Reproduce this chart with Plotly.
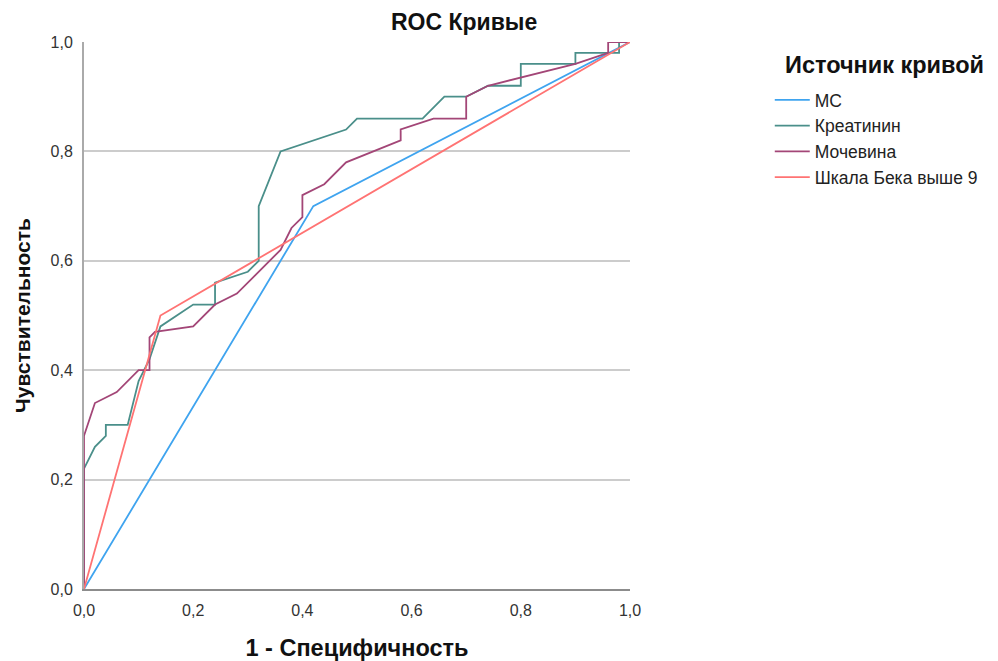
import plotly.graph_objects as go

# ---- data ----
mc_x = [0.0, 0.42, 1.0]
mc_y = [0.0, 0.70, 1.0]

kreat_x = [0.0, 0.0, 0.02, 0.04, 0.04, 0.08, 0.10, 0.12, 0.14, 0.20, 0.24, 0.24, 0.30, 0.32, 0.32, 0.36, 0.48, 0.50, 0.62, 0.66, 0.70, 0.74, 0.80, 0.80, 0.90, 0.90, 0.98, 0.98, 1.0]
kreat_y = [0.0, 0.22, 0.26, 0.28, 0.30, 0.30, 0.38, 0.42, 0.48, 0.52, 0.52, 0.56, 0.58, 0.60, 0.70, 0.80, 0.84, 0.86, 0.86, 0.90, 0.90, 0.92, 0.92, 0.96, 0.96, 0.98, 0.98, 1.0, 1.0]

moch_x = [0.0, 0.0, 0.02, 0.06, 0.10, 0.12, 0.12, 0.13, 0.20, 0.24, 0.28, 0.36, 0.38, 0.40, 0.40, 0.44, 0.48, 0.58, 0.58, 0.64, 0.70, 0.70, 0.74, 0.90, 0.96, 0.96, 1.0]
moch_y = [0.0, 0.28, 0.34, 0.36, 0.40, 0.40, 0.46, 0.47, 0.48, 0.52, 0.54, 0.62, 0.66, 0.68, 0.72, 0.74, 0.78, 0.82, 0.84, 0.86, 0.86, 0.90, 0.92, 0.96, 0.98, 1.0, 1.0]

beck_x = [0.0, 0.14, 1.0]
beck_y = [0.0, 0.50, 1.0]

series_names = ["МС", "Креатинин", "Мочевина", "Шкала Бека выше 9"]
series_colors = ["#3fa4ef", "#4a8f8a", "#a34677", "#ff7373"]

tick_vals = [0.0, 0.2, 0.4, 0.6, 0.8, 1.0]
legend_title = "Источник кривой"

FONT = "Liberation Sans, Arial, sans-serif"

fig = go.Figure()
for xs, ys, name, color in zip(
    [mc_x, kreat_x, moch_x, beck_x],
    [mc_y, kreat_y, moch_y, beck_y],
    series_names, series_colors,
):
    fig.add_trace(go.Scatter(x=xs, y=ys, mode="lines", name=name,
                             line=dict(color=color, width=1.8)))

fig.update_layout(
    width=998, height=661,
    paper_bgcolor="white", plot_bgcolor="white",
    separators=", ",
    font=dict(family=FONT, color="#222222", size=16),
    margin=dict(l=84, r=368, t=42, b=72),
    title=dict(text="<b>ROC Кривые</b>", x=0.465, xanchor="center",
               y=0.967, yanchor="middle",
               font=dict(size=23, color="#111111", family=FONT)),
    xaxis=dict(range=[0, 1], tickvals=tick_vals, tickformat=".1f",
               showgrid=False, zeroline=False, showline=True,
               linecolor="#8c8c8c", linewidth=2, ticks="",
               ticklabelstandoff=6, automargin=False,
               tickfont=dict(size=16, color="#333333"),
               title=dict(text="<b>1 - Специфичность</b>", standoff=21,
                          font=dict(size=23.5, color="#111111"))),
    yaxis=dict(range=[0, 1], tickvals=tick_vals, tickformat=".1f",
               showgrid=True, gridcolor="#cccccc", gridwidth=2,
               zeroline=False, showline=True,
               linecolor="#aaaaaa", linewidth=2, ticks="",
               ticklabelstandoff=6, automargin=False,
               tickfont=dict(size=16, color="#333333"),
               title=dict(text="<b>Чувствительность</b>", standoff=14,
                          font=dict(size=21, color="#111111"))),
    legend=dict(x=1.256, y=(589 - 82) / 547, xanchor="left", yanchor="top",
                font=dict(size=17.5, color="#222222"),
                bgcolor="rgba(0,0,0,0)", itemwidth=35, tracegroupgap=0),
    showlegend=True,
    annotations=[dict(text="<b>" + legend_title + "</b>", xref="paper", yref="paper",
                      x=(884 - 84) / 546, y=(589 - 65) / 547,
                      xanchor="center", yanchor="middle", showarrow=False,
                      font=dict(size=23.5, color="#111111", family=FONT))],
)

fig.write_html("out.html", config={"displayModeBar": False},
               post_script="document.body.style.margin='0';")
